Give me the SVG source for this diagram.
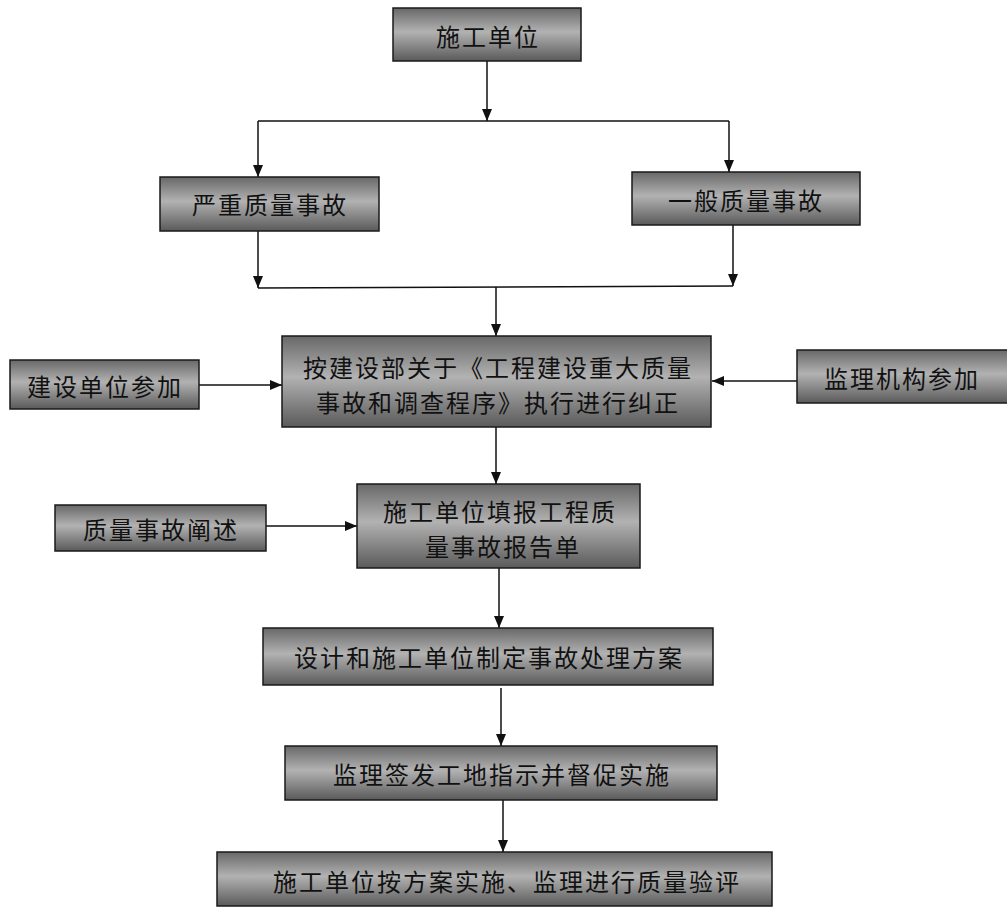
<svg xmlns="http://www.w3.org/2000/svg" width="1007" height="908" viewBox="0 0 1007 908">
<style>
.box{fill:url(#g);stroke:#1a1a1a;stroke-width:1.5}
.t{font-family:"Noto Sans CJK SC","Noto Sans CJK JP",sans-serif;font-size:24px;fill:#111;text-anchor:middle;dominant-baseline:central;letter-spacing:2px}
.c{fill:none;stroke:#111;stroke-width:1.5}
</style>
<defs>
<linearGradient id="g" x1="0" y1="0" x2="0" y2="1">
<stop offset="0" stop-color="#686868"/>
<stop offset="0.45" stop-color="#b2b2b2"/>
<stop offset="1" stop-color="#5a5a5a"/>
</linearGradient>
<marker id="a" viewBox="0 0 12 10" refX="12" refY="5" markerWidth="12" markerHeight="10" markerUnits="userSpaceOnUse" orient="auto">
<path d="M0,0 L12,5 L0,10 Z" fill="#111"/>
</marker>
</defs>
<rect width="1007" height="908" fill="#ffffff"/>
<g id="connectors">
<line class="c" x1="487" y1="61" x2="487" y2="121" marker-end="url(#a)"/>
<line class="c" x1="258" y1="121" x2="729" y2="121"/>
<line class="c" x1="258" y1="121" x2="258" y2="177" marker-end="url(#a)"/>
<line class="c" x1="729" y1="121" x2="729" y2="172" marker-end="url(#a)"/>
<line class="c" x1="258" y1="231" x2="258" y2="288" marker-end="url(#a)"/>
<line class="c" x1="733" y1="225" x2="733" y2="286" marker-end="url(#a)"/>
<line class="c" x1="258" y1="288" x2="733" y2="286"/>
<line class="c" x1="496" y1="287" x2="496" y2="336" marker-end="url(#a)"/>
<line class="c" x1="199" y1="385" x2="282" y2="385" marker-end="url(#a)"/>
<line class="c" x1="797" y1="381" x2="712" y2="381" marker-end="url(#a)"/>
<line class="c" x1="496" y1="427" x2="496" y2="484" marker-end="url(#a)"/>
<line class="c" x1="266" y1="526" x2="357" y2="526" marker-end="url(#a)"/>
<line class="c" x1="499" y1="568" x2="499" y2="628" marker-end="url(#a)"/>
<line class="c" x1="501" y1="688" x2="501" y2="746" marker-end="url(#a)"/>
<line class="c" x1="503" y1="800" x2="503" y2="852" marker-end="url(#a)"/>
</g>
<g id="n1"><rect class="box" x="393" y="8" width="188" height="53"/><text class="t" x="488" y="35">施工单位</text></g>
<g id="n2"><rect class="box" x="160" y="177" width="219" height="54"/><text class="t" x="270" y="203">严重质量事故</text></g>
<g id="n3"><rect class="box" x="632" y="172" width="228" height="53"/><text class="t" x="746" y="199">一般质量事故</text></g>
<g id="n4"><rect class="box" x="282" y="336" width="429" height="91"/><text class="t" x="498" y="366">按建设部关于《工程建设重大质量</text><text class="t" x="498" y="401">事故和调查程序》执行进行纠正</text></g>
<g id="n5"><rect class="box" x="10" y="360" width="189" height="49"/><text class="t" x="105" y="385">建设单位参加</text></g>
<g id="n6"><rect class="box" x="797" y="350" width="212" height="53"/><text class="t" x="902" y="377">监理机构参加</text></g>
<g id="n7"><rect class="box" x="357" y="484" width="283" height="84"/><text class="t" x="500" y="510">施工单位填报工程质</text><text class="t" x="503" y="545">量事故报告单</text></g>
<g id="n8"><rect class="box" x="55" y="505" width="211" height="46"/><text class="t" x="161" y="528">质量事故阐述</text></g>
<g id="n9"><rect class="box" x="263" y="628" width="450" height="57"/><text class="t" x="489" y="656">设计和施工单位制定事故处理方案</text></g>
<g id="n10"><rect class="box" x="285" y="746" width="432" height="54"/><text class="t" x="502" y="773">监理签发工地指示并督促实施</text></g>
<g id="n11"><rect class="box" x="217" y="852" width="555" height="54"/><text class="t" x="507" y="880">施工单位按方案实施、监理进行质量验评</text></g>
</svg>
